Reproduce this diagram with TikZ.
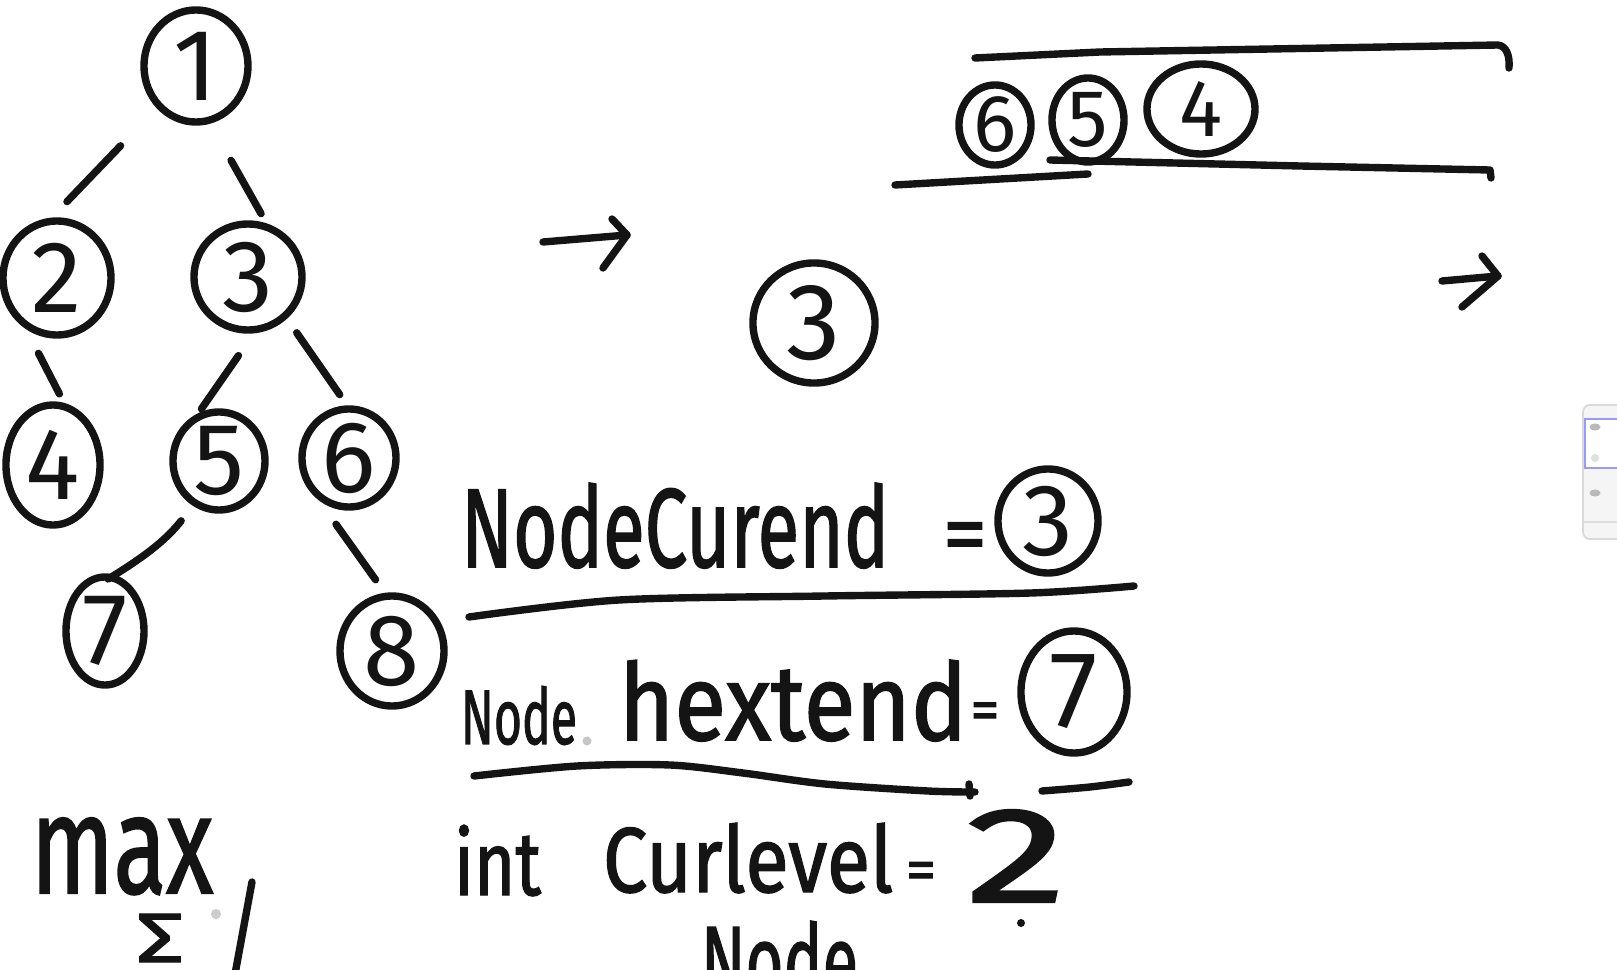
\documentclass[tikz,border=0pt]{standalone}
\usepackage{fontspec}
\usepackage{graphicx}
\setmainfont{Fira Sans}
\newfontfamily\handfont{Fira Sans}[FakeBold=1.6]
\usetikzlibrary{shapes.geometric}
\definecolor{ink}{HTML}{141414}
\tikzset{
  pen/.style={draw=ink, line width=2.1pt, line cap=round, line join=round},
  circ/.style 2 args={ellipse, draw=ink, line width=2.1pt, minimum width=#1, minimum height=#2, inner sep=-8pt, text=ink},
  tdig/.style={font=\fontsize{29}{29}\selectfont},
  qdig/.style={font=\fontsize{23}{23}\selectfont},
  bdig/.style={font=\fontsize{31}{31}\selectfont},
  txt/.style={inner sep=0pt, outer sep=0pt, text=ink, font=\handfont},
}
\begin{document}
\begin{tikzpicture}[x=0.01cm, y=-0.01cm]
\useasboundingbox (0,0) rectangle (1617,970);
\clip (0,0) rectangle (1617,970);
\fill[white] (0,0) rectangle (1617,970);

% tree
\node[circ={1.04cm}{1.12cm}, tdig] (n1) at (196,66) {1};
\node[circ={1.08cm}{1.14cm}, tdig] (n2) at (57,278) {2};
\node[circ={1.08cm}{1.06cm}, tdig] (n3) at (248,277) {3};
\node[circ={0.94cm}{1.20cm}, tdig] (n4) at (53,465) {4};
\node[circ={0.92cm}{0.98cm}, tdig] (n5) at (219,461) {5};
\node[circ={0.94cm}{0.98cm}, tdig] (n6) at (349,458) {6};
\node[circ={0.78cm}{1.08cm}, tdig] (n7) at (105,631) {7};
\node[circ={1.04cm}{1.10cm}, tdig] (n8) at (392,651) {8};
\draw[pen, shorten <=0.52cm, shorten >=0.22cm] (n1.227) -- (n2.95);
\draw[pen, shorten <=0.42cm, shorten >=0.11cm] (n1.284) -- (n3.71);
\draw[pen, shorten <=0.27cm, shorten >=0.10cm] (n2.239) -- (n4.80);
\draw[pen, shorten <=0.27cm, shorten >=0.05cm] (n3.276) -- (n5.113);
\draw[pen, shorten <=0.17cm, shorten >=0.13cm] (n3.313) -- (n6.92);
\draw[pen, shorten <=0.19cm, shorten >=-0.08cm] (n5.240) to[bend left=10] (n7.80);
\draw[pen, shorten <=0.29cm, shorten >=0.16cm] (n6.235) -- (n8.97);

% arrows
\coordinate (a1s) at (543,242);
\coordinate (a1t) at (627,235);
\coordinate (a1u) at (612,219);
\coordinate (a1d) at (603,268);
\draw[pen] (a1s) -- (a1t);
\draw[pen] (a1u) -- (a1t) -- (a1d);
\coordinate (a2s) at (1442,281);
\coordinate (a2t) at (1498,276);
\coordinate (a2u) at (1482,256);
\coordinate (a2d) at (1462,307);
\draw[pen] (a2s) -- (a2t);
\draw[pen] (a2u) -- (a2t) -- (a2d);

% middle node
\node[circ={1.22cm}{1.20cm}, bdig] (m3) at (814,323) {3};

% queue
\node[circ={0.72cm}{0.80cm}, qdig] (q6) at (995,125) {6};
\node[circ={0.72cm}{0.84cm}, qdig] (q5) at (1088,120) {5};
\node[circ={1.08cm}{0.90cm}, qdig] (q4) at (1201,109) {4};
\draw[pen] (975,58) -- (1100,52) -- (1498,45) .. controls (1506,46) and (1510,55) .. (1509,68);
\draw[pen] (1050,160) -- (1300,166) -- (1490,170) -- (1491,178);
\draw[pen] (895,185) -- (1088,174);

% variables
\node[txt, anchor=base west] (t1) at (461,567) {\resizebox{4.28cm}{0.84cm}{NodeCurend}};
\node[txt] (eq1) at (965,543) {\resizebox{0.44cm}{!}{=}};
\node[circ={1.00cm}{1.04cm}, tdig] (c3) at (1048,521) {3};
\draw[pen] plot[smooth] coordinates {(469,617) (619,600) (825,596) (1031,593) (1134,586)};

\node[txt, anchor=base west] (t2a) at (461,744) {\resizebox{1.16cm}{0.58cm}{Node}};
\fill[gray!45] (587,741) circle [radius=0.045cm];
\node[txt, anchor=base west] (t2b) at (619,740) {\resizebox{3.48cm}{0.80cm}{hextend}};
\node[txt] (eq2) at (985,716) {\resizebox{0.29cm}{!}{=}};
\node[circ={1.06cm}{1.22cm}, bdig] (c7) at (1074,692) {7};
\draw[pen] plot[smooth] coordinates {(474,776) (577,766) (670,765) (743,773) (825,784) (928,791) (975,792)};
\draw[pen] (969,784) -- (970,796);
\draw[pen] plot[smooth] coordinates {(1042,791) (1090,787) (1129,782)};

\node[txt, anchor=base west] (t3a) at (454,895) {\resizebox{0.87cm}{0.70cm}{int}};
\node[txt, anchor=base west] (t3b) at (603,892) {\resizebox{2.90cm}{0.69cm}{Curlevel}};
\node[txt] (eq3) at (921,876) {\resizebox{0.30cm}{!}{=}};
\node[txt, anchor=base west] (t3c) at (966,902) {\resizebox{1.00cm}{0.92cm}{2}};
\fill[ink] (1021,923) circle [radius=0.04cm];
\node[txt, anchor=base west] (t4) at (701,996) {\resizebox{1.57cm}{0.75cm}{Node}};

% bottom left
\node[txt, anchor=base west] (tmax) at (31,893) {\resizebox{1.82cm}{0.75cm}{max}};
\node[txt, anchor=base west] (tsig) at (136,962) {\resizebox{0.48cm}{0.48cm}{Σ}};
\fill[gray!40] (216,914) circle [radius=0.05cm];
\draw[pen] (252,882) -- (233,985);

% side panel
\fill[gray!8, draw=gray!30, line width=0.5pt, rounded corners=2pt] (1583,405) rectangle (1640,539);
\draw[blue!40, fill=white, line width=0.6pt] (1585,419) rectangle (1640,468);
\fill[gray!55] (1595,427) ellipse [x radius=0.055cm, y radius=0.035cm];
\fill[gray!25] (1595,458) circle [radius=0.04cm];
\fill[gray!55] (1595,493) ellipse [x radius=0.055cm, y radius=0.035cm];
\draw[gray!25, line width=0.5pt] (1584,522) -- (1617,522);
\end{tikzpicture}
\end{document}
